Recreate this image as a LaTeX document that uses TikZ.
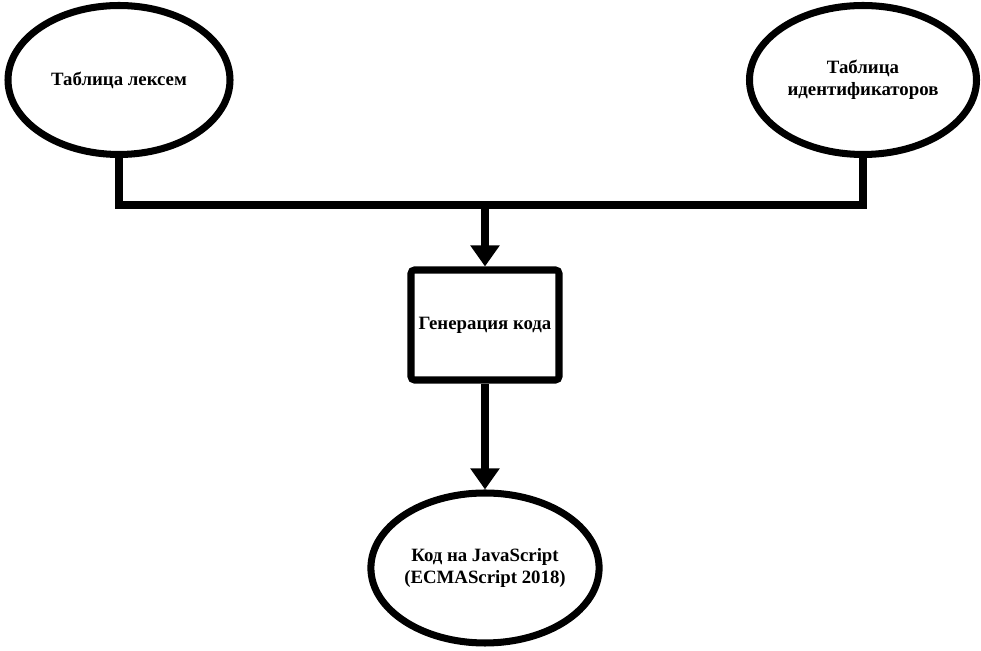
\documentclass[tikz,border=0pt]{standalone}
\usepackage{fontspec}
\setmainfont{Liberation Serif}
\usepackage{xcolor}
\usetikzlibrary{shapes.geometric,arrows.meta,positioning}

\begin{document}
\begin{tikzpicture}[node distance=4.86cm,
  line width=4pt,
  tablebox/.style={ellipse, draw=black, line width=4pt, inner sep=0pt, align=center, font=\fontsize{10.7}{12.5}\selectfont\bfseries},
  stagebox/.style={rectangle, rounded corners=2pt, draw=black, line width=4pt, minimum width=2.96cm, minimum height=2.2cm, align=center, font=\fontsize{10.7}{12.5}\selectfont\bfseries},
  flow/.style={-{Triangle[width=16pt,length=12pt]}}]
\fill[white] (0,0) rectangle (19.62,13.02);
\useasboundingbox (0,0) rectangle (19.62,13.02);

\node (lex) [tablebox, minimum width=4.44cm, minimum height=2.98cm] at (2.38,11.42) {Таблица лексем};

\node (ident) [tablebox, minimum width=4.54cm, minimum height=2.98cm] at (17.26,11.42) {Таблица\\идентификаторов};

\node (gen) [stagebox] at (9.70,6.52) {Генерация кода};

\node (js) [tablebox, minimum width=4.44cm, minimum height=3.0cm, below of=gen] {Код на JavaScript\\(ECMAScript 2018)};

\coordinate (join) at (9.70,8.92);

\draw (lex.south) |- (join) -| (ident.south);
\draw[flow] (join) -- (gen);
\draw[flow] (gen) -- (js);

\end{tikzpicture}
\end{document}
